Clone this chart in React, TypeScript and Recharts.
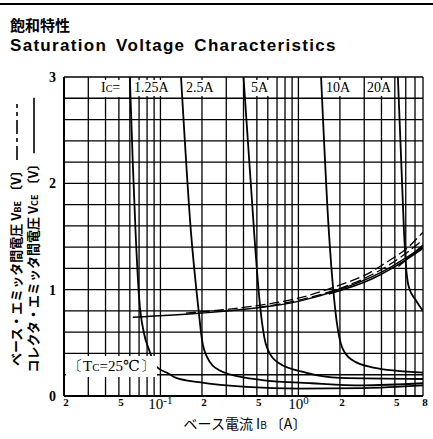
import React from 'react';
import { LineChart, Line, XAxis, YAxis, CartesianGrid } from 'recharts';

// base current IB (A) vs VCE (V), one list per collector current
const vce125 = [
  { x: 0.06, y: 3.0 }, { x: 0.063, y: 2.2 }, { x: 0.066, y: 1.55 }, { x: 0.07, y: 0.93 },
  { x: 0.076, y: 0.59 }, { x: 0.083, y: 0.43 }, { x: 0.093, y: 0.28 }, { x: 0.115, y: 0.21 },
  { x: 0.13, y: 0.17 }, { x: 0.19, y: 0.13 }, { x: 0.42, y: 0.085 }, { x: 1.0, y: 0.07 },
  { x: 3.0, y: 0.075 }, { x: 8, y: 0.1 },
];
const vce25 = [
  { x: 0.141, y: 3.0 }, { x: 0.166, y: 1.56 }, { x: 0.19, y: 0.78 }, { x: 0.2, y: 0.53 },
  { x: 0.217, y: 0.37 }, { x: 0.265, y: 0.245 }, { x: 0.42, y: 0.17 }, { x: 0.545, y: 0.15 },
  { x: 1.25, y: 0.12 }, { x: 2.9, y: 0.1 }, { x: 8, y: 0.12 },
];
const vce5 = [
  { x: 0.4, y: 3.0 }, { x: 0.48, y: 1.5 }, { x: 0.52, y: 0.93 }, { x: 0.545, y: 0.69 },
  { x: 0.59, y: 0.46 }, { x: 0.72, y: 0.31 }, { x: 1.13, y: 0.22 }, { x: 2.0, y: 0.17 },
  { x: 8, y: 0.16 },
];
const vce10 = [
  { x: 1.46, y: 3.0 }, { x: 1.66, y: 1.56 }, { x: 1.81, y: 0.93 }, { x: 1.9, y: 0.69 },
  { x: 2.07, y: 0.46 }, { x: 2.44, y: 0.34 }, { x: 3.41, y: 0.27 }, { x: 8, y: 0.22 },
];
const vce20 = [
  { x: 5.26, y: 3.0 }, { x: 5.82, y: 1.56 }, { x: 6.0, y: 1.25 }, { x: 6.3, y: 1.03 },
  { x: 7.1, y: 0.9 }, { x: 8, y: 0.8 },
];

// VBE curves (bundle)
const vbe125 = [
  { x: 0.063, y: 0.74 }, { x: 0.2, y: 0.78 }, { x: 0.44, y: 0.82 }, { x: 1.0, y: 0.89 },
  { x: 1.87, y: 0.99 }, { x: 3.4, y: 1.12 }, { x: 4.5, y: 1.2 }, { x: 6.0, y: 1.3 }, { x: 8, y: 1.4 },
];
const vbe25 = [
  { x: 0.153, y: 0.78 }, { x: 0.44, y: 0.84 }, { x: 1.0, y: 0.92 }, { x: 1.87, y: 1.03 },
  { x: 3.4, y: 1.17 }, { x: 4.5, y: 1.27 }, { x: 6.0, y: 1.38 }, { x: 8, y: 1.54 },
];
const vbe5 = [
  { x: 0.5, y: 0.83 }, { x: 1.0, y: 0.9 }, { x: 1.87, y: 1.0 }, { x: 3.4, y: 1.14 },
  { x: 6.0, y: 1.34 }, { x: 8, y: 1.47 },
];
const vbe10 = [
  { x: 1.66, y: 0.96 }, { x: 3.4, y: 1.1 }, { x: 6.0, y: 1.28 }, { x: 8, y: 1.39 },
];
const vbe20 = [
  { x: 5.3, y: 1.22 }, { x: 8, y: 1.42 },
];

const xGridTicks = [
  0.02, 0.03, 0.04, 0.05, 0.06, 0.07, 0.08, 0.09,
  0.1, 0.2, 0.3, 0.4, 0.5, 0.6, 0.7, 0.8, 0.9,
  1, 2, 3, 4, 5, 6, 7, 8,
];
const xTickLabels: Record<string, string> = {
  '0.02': '2', '0.05': '5', '0.1': '10|-1', '0.2': '2', '0.5': '5',
  '1': '10|0', '2': '2', '5': '5', '8': '8',
};
const yGridTicks = [0, 0.2, 0.4, 0.6, 0.8, 1, 1.2, 1.4, 1.6, 1.8, 2, 2.2, 2.4, 2.6, 2.8, 3];
const yTickLabels = [0, 1, 2, 3];

const serif = '"Liberation Serif", "DejaVu Serif", serif';
const sans = '"Liberation Sans", Arial, sans-serif';
const jp = '"Noto Sans CJK JP", "Liberation Sans", sans-serif';

function XTick(props: any) {
  const { x, y, payload } = props;
  const lab = xTickLabels[String(payload.value)];
  if (!lab) return null;
  if (lab.includes('|')) {
    const [base, exp] = lab.split('|');
    return (
      <text x={x} y={y} dy={5} textAnchor="middle" fontFamily={serif} fontSize={15} fill="#000">
        <tspan>{base}</tspan>
        <tspan dy={-5} fontSize={11}>{exp}</tspan>
      </text>
    );
  }
  return (
    <text x={x + 2} y={y} dy={2} textAnchor="middle" fontFamily={serif} fontWeight="bold" fontSize={11} fill="#000">
      {lab}
    </text>
  );
}

function YTick(props: any) {
  const { x, y, payload } = props;
  if (!yTickLabels.includes(payload.value)) return null;
  return (
    <text x={x} y={y} dy={5} textAnchor="end" fontFamily={serif} fontWeight="bold" fontSize={14} fill="#000">
      {payload.value}
    </text>
  );
}

const box: React.CSSProperties = {
  position: 'absolute',
  background: '#fff',
  fontFamily: serif,
  fontSize: 14,
  lineHeight: '16px',
  color: '#000',
  whiteSpace: 'nowrap',
};

function LegendLine({ dashed }: { dashed: boolean }) {
  return (
    <svg width={56} height={8} style={{ verticalAlign: 'middle', marginLeft: 4 }}>
      <line x1={0} y1={4} x2={56} y2={4} stroke="#000" strokeWidth={1.6}
        strokeDasharray={dashed ? '14 4 4 4' : undefined} />
    </svg>
  );
}

export default function App() {
  return (
    <div style={{ position: 'absolute', left: 0, top: 0, width: 433, height: 439, background: '#fff', overflow: 'hidden' }}>
      <div style={{ position: 'absolute', left: 0, top: 3, width: 433, height: 2, background: '#000' }} />
      <div style={{ position: 'absolute', left: 10, top: 16, fontFamily: jp, fontWeight: 'bold', fontSize: 15, lineHeight: '17px' }}>
        飽和特性
      </div>
      <div style={{ position: 'absolute', left: 10, top: 36, fontFamily: sans, fontWeight: 'bold', fontSize: 17, lineHeight: '19px', letterSpacing: 1.3, wordSpacing: 3 }}>
        Saturation Voltage Characteristics
      </div>

      <LineChart width={433} height={439} margin={{ top: 77, right: 10, bottom: 19, left: 40 }}>
        <CartesianGrid stroke="#000" strokeWidth={1.3} />
        <XAxis
          type="number"
          dataKey="x"
          scale="log"
          domain={[0.02, 8]}
          ticks={xGridTicks}
          interval={0}
          allowDataOverflow
          height={24}
          tickLine={false}
          axisLine={{ stroke: '#000', strokeWidth: 2 }}
          tick={<XTick />}
        />
        <YAxis
          type="number"
          dataKey="y"
          domain={[0, 3]}
          ticks={yGridTicks}
          interval={0}
          allowDataOverflow
          width={24}
          tickLine={false}
          axisLine={{ stroke: '#000', strokeWidth: 2 }}
          tick={<YTick />}
        />
        <Line data={vce125} dataKey="y" type="monotone" stroke="#000" strokeWidth={1.8} dot={false} isAnimationActive={false} />
        <Line data={vce25} dataKey="y" type="monotone" stroke="#000" strokeWidth={1.8} dot={false} isAnimationActive={false} />
        <Line data={vce5} dataKey="y" type="monotone" stroke="#000" strokeWidth={1.8} dot={false} isAnimationActive={false} />
        <Line data={vce10} dataKey="y" type="monotone" stroke="#000" strokeWidth={1.8} dot={false} isAnimationActive={false} />
        <Line data={vce20} dataKey="y" type="monotone" stroke="#000" strokeWidth={1.8} dot={false} isAnimationActive={false} />
        <Line data={vbe125} dataKey="y" type="monotone" stroke="#000" strokeWidth={1.4} dot={false} isAnimationActive={false} />
        <Line data={vbe25} dataKey="y" type="monotone" stroke="#000" strokeWidth={1.3} strokeDasharray="10 4" dot={false} isAnimationActive={false} />
        <Line data={vbe5} dataKey="y" type="monotone" stroke="#000" strokeWidth={1.3} strokeDasharray="10 4" dot={false} isAnimationActive={false} />
        <Line data={vbe10} dataKey="y" type="monotone" stroke="#000" strokeWidth={1.6} dot={false} isAnimationActive={false} />
        <Line data={vbe20} dataKey="y" type="monotone" stroke="#000" strokeWidth={1.6} dot={false} isAnimationActive={false} />
      </LineChart>

      {/* curve labels along the top of the plot */}
      <div style={{ ...box, left: 99, top: 80, padding: '0 2px' }}>
        I<span style={{ fontSize: 10 }}>C</span>=
      </div>
      <div style={{ ...box, left: 133, top: 80, padding: '0 1px' }}>1.25A</div>
      <div style={{ ...box, left: 185, top: 80, padding: '0 1px' }}>2.5A</div>
      <div style={{ ...box, left: 250, top: 80, padding: '0 1px' }}>5A</div>
      <div style={{ ...box, left: 325, top: 80, padding: '0 1px' }}>10A</div>
      <div style={{ ...box, left: 366, top: 80, padding: '0 1px' }}>20A</div>
      <div style={{ ...box, left: 66, top: 356, padding: '2px 2px', fontSize: 15 }}>
        〔T<span style={{ fontSize: 11 }}>C</span>=25℃〕
      </div>

      {/* y axis titles */}
      <div style={{ position: 'absolute', left: 17, top: 235, transform: 'translate(-50%, -50%) rotate(-90deg)', whiteSpace: 'nowrap', fontFamily: jp, fontWeight: 600, fontSize: 13, lineHeight: '16px' }}>
        ベース・エミッタ間電圧 V<span style={{ fontSize: 9 }}>BE</span> 〔V〕<LegendLine dashed />
      </div>
      <div style={{ position: 'absolute', left: 34, top: 235, transform: 'translate(-50%, -50%) rotate(-90deg)', whiteSpace: 'nowrap', fontFamily: jp, fontWeight: 600, fontSize: 13, lineHeight: '16px' }}>
        コレクタ・エミッタ間電圧 V<span style={{ fontSize: 9 }}>CE</span> 〔V〕<LegendLine dashed={false} />
      </div>

      {/* x axis title */}
      <div style={{ position: 'absolute', left: 245, top: 424, transform: 'translate(-50%, -50%)', whiteSpace: 'nowrap', fontFamily: jp, fontSize: 14, lineHeight: '16px' }}>
        ベース電流 I<span style={{ fontSize: 10 }}>B</span> 〔A〕
      </div>
    </div>
  );
}
